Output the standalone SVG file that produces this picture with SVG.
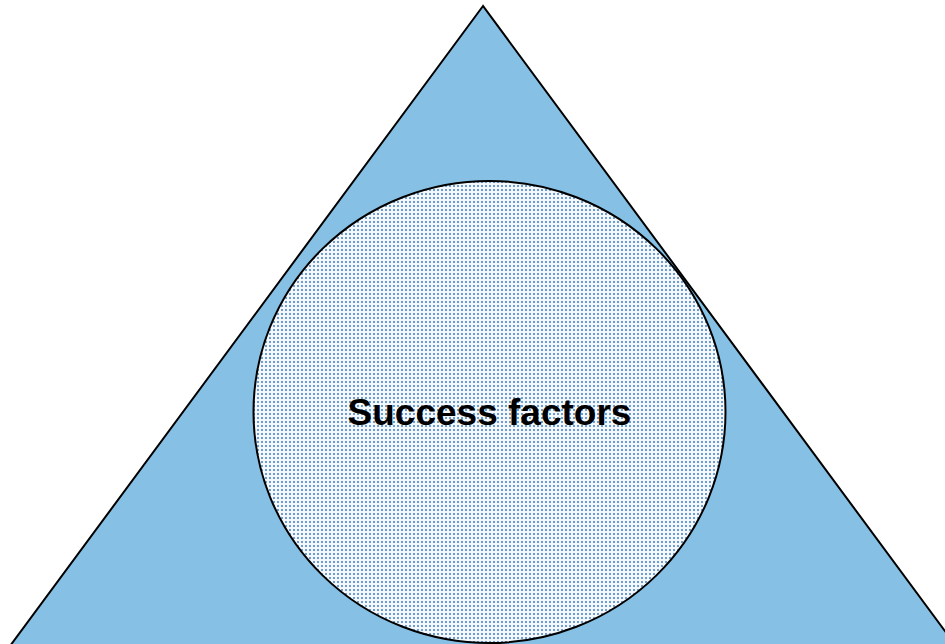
<svg xmlns="http://www.w3.org/2000/svg" width="945" height="644" viewBox="0 0 945 644">
<style>
.shape{stroke:#000;stroke-width:2}
.label{font-family:"Liberation Sans",Arial,sans-serif;font-weight:bold;font-size:37px;fill:#000;text-anchor:middle}
</style>
<defs>
<pattern id="dots" x="0" y="0" width="4" height="4" patternUnits="userSpaceOnUse">
<rect width="4" height="4" fill="#f4f8fc"/>
<rect x="1" y="1" width="2" height="2" fill="#6d9dca"/>
</pattern>
</defs>
<rect width="945" height="644" fill="#fff"/>
<g id="triangle">
<polygon class="shape" points="483,6 10,646 956,646" fill="#86c1e5"/>
</g>
<g id="circle">
<ellipse class="shape" cx="489.5" cy="412" rx="236" ry="231" fill="url(#dots)"/>
<text class="label" x="489.5" y="425">Success factors</text>
</g>
<g id="connectors"/>
</svg>
